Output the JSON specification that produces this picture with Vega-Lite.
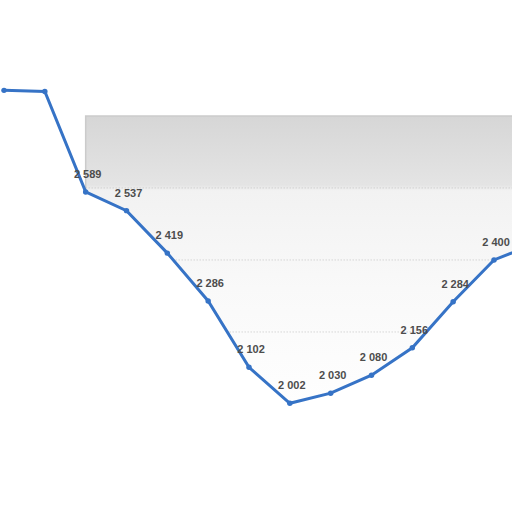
{
  "$schema": "https://vega.github.io/schema/vega-lite/v6.json",
  "width": 512,
  "height": 512,
  "autosize": {"type": "none"},
  "padding": 0,
  "background": "white",
  "data": {
    "values": [
      {"i": 0, "v": 2871},
      {"i": 1, "v": 2868},
      {"i": 2, "v": 2589},
      {"i": 3, "v": 2537},
      {"i": 4, "v": 2419},
      {"i": 5, "v": 2286},
      {"i": 6, "v": 2102},
      {"i": 7, "v": 2002},
      {"i": 8, "v": 2030},
      {"i": 9, "v": 2080},
      {"i": 10, "v": 2156},
      {"i": 11, "v": 2284},
      {"i": 12, "v": 2400},
      {"i": 13, "v": 2445}
    ]
  },
  "encoding": {
    "x": {
      "field": "i",
      "type": "quantitative",
      "scale": {"domain": [-0.098, 12.441], "nice": false, "zero": false},
      "axis": null
    },
    "y": {
      "field": "v",
      "type": "quantitative",
      "scale": {"domain": [1700, 3122], "nice": false, "zero": false},
      "axis": null
    }
  },
  "layer": [
    {
      "transform": [{"filter": "datum.i >= 2"}],
      "mark": {
        "type": "area",
        "clip": true,
        "stroke": "#cbcbcb",
        "strokeWidth": 1.5,
        "color": {
          "gradient": "linear",
          "x1": 0, "y1": 0, "x2": 0, "y2": 1,
          "stops": [
            {"offset": 0, "color": "#d6d6d6"},
            {"offset": 0.24, "color": "#e4e4e4"},
            {"offset": 0.26, "color": "#f2f2f2"},
            {"offset": 0.6, "color": "#f9f9f9"},
            {"offset": 1, "color": "#fefefe"}
          ]
        }
      },
      "encoding": {
        "y2": {"datum": 2800}
      }
    },
    {
      "transform": [{"filter": "datum.i >= 2"}],
      "mark": {"type": "line", "clip": true, "color": "#c4c4c4", "strokeWidth": 1, "strokeDash": [1, 2]},
      "encoding": {"y": {"datum": 2600}}
    },
    {
      "transform": [{"filter": "datum.i >= 2"}],
      "mark": {"type": "line", "clip": true, "color": "#c4c4c4", "strokeWidth": 1, "strokeDash": [1, 2]},
      "encoding": {"y": {"datum": 2400}}
    },
    {
      "transform": [{"filter": "datum.i >= 2"}],
      "mark": {"type": "line", "clip": true, "color": "#c4c4c4", "strokeWidth": 1, "strokeDash": [1, 2]},
      "encoding": {"y": {"datum": 2200}}
    },
    {
      "mark": {"type": "area", "clip": true, "color": "white", "opacity": 1},
      "encoding": {
        "y2": {"datum": 1700}
      }
    },
    {
      "mark": {"type": "line", "clip": true, "color": "#3673c6", "strokeWidth": 3}
    },
    {
      "mark": {"type": "point", "clip": true, "filled": true, "opacity": 1, "color": "#3673c6", "size": 30}
    },
    {
      "transform": [{"filter": "datum.i >= 2 && datum.i <= 12"}],
      "mark": {
        "type": "text",
        "dx": 2,
        "dy": -17,
        "font": "Liberation Sans",
        "fontSize": 11,
        "fontWeight": "bold",
        "color": "#4d4d4d"
      },
      "encoding": {
        "text": {"field": "v", "type": "quantitative", "format": ",d"}
      }
    }
  ],
  "config": {
    "view": {"stroke": null},
    "locale": {
      "number": {"decimal": ",", "thousands": " ", "grouping": [3], "currency": ["", ""]}
    }
  }
}
